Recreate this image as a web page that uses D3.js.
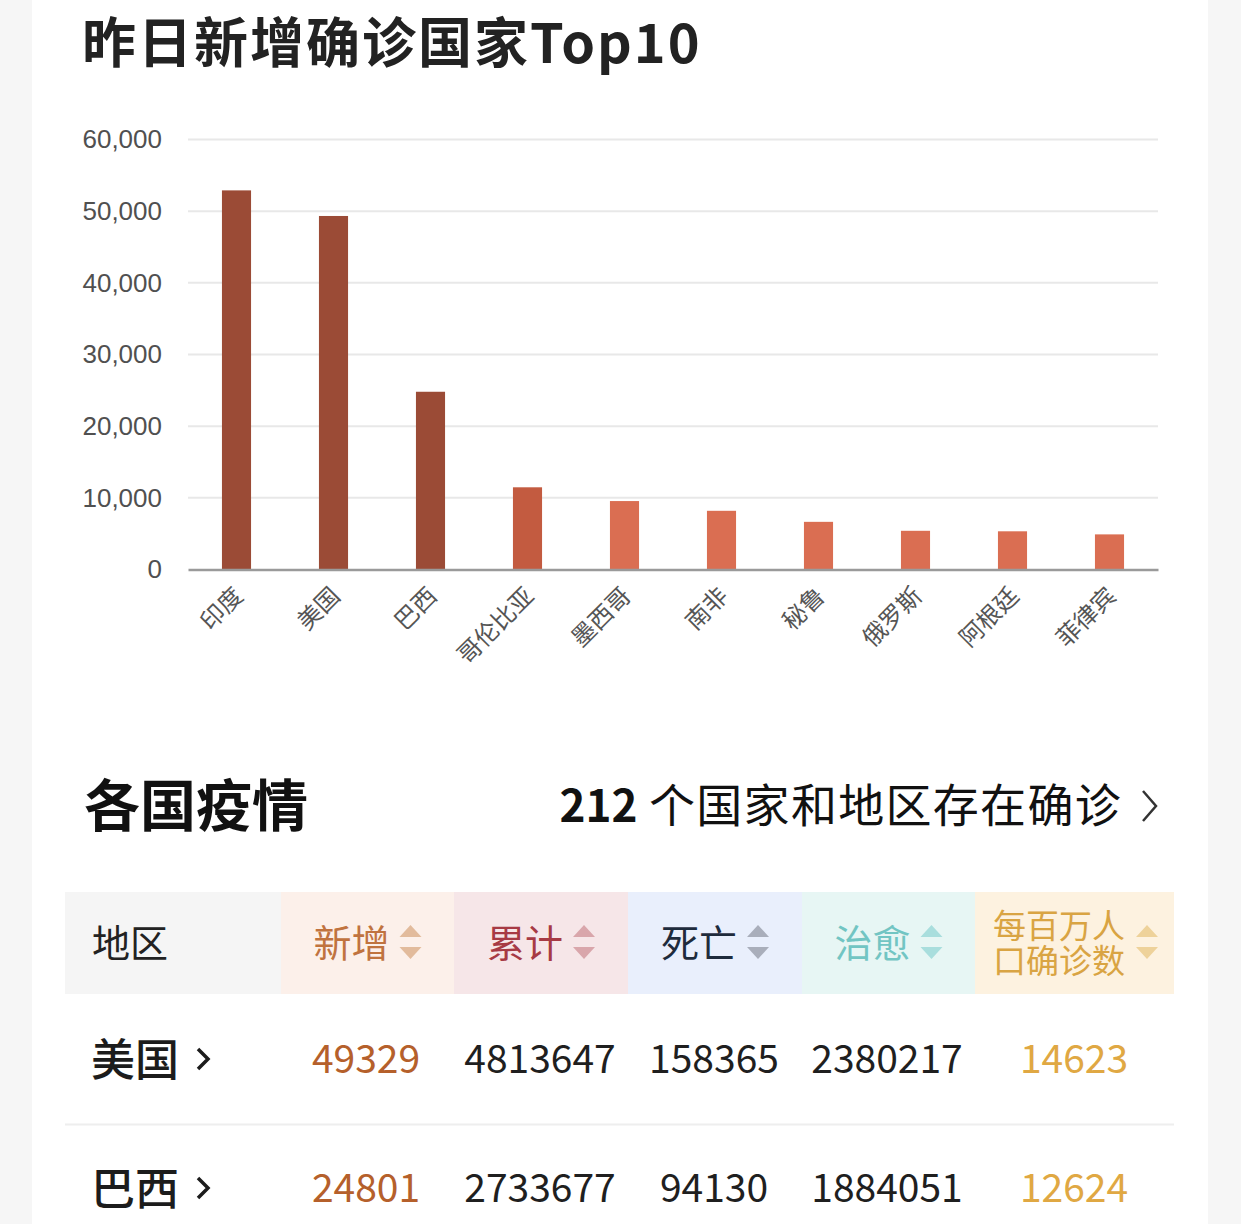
<!DOCTYPE html>
<html>
<head>
<meta charset="utf-8">
<script src="https://cdn.jsdelivr.net/npm/d3@7/dist/d3.min.js"></script>
<style>
  html, body { margin: 0; padding: 0; background: #f6f6f6; }
  svg { display: block; }
</style>
</head>
<body>
<svg id="chart" width="1241" height="1224" font-family="'Noto Sans CJK SC', 'Noto Sans', sans-serif"></svg>
<script>
// ---- data ----
const countries = ["印度", "美国", "巴西", "哥伦比亚", "墨西哥", "南非", "秘鲁", "俄罗斯", "阿根廷", "菲律宾"];
const newCases = [52900, 49329, 24801, 11470, 9550, 8190, 6650, 5400, 5330, 4900];
const barColors = ["#9b4b36", "#9b4b36", "#9b4b36", "#c35b40", "#da6e52", "#da6e52", "#da6e52", "#da6e52", "#da6e52", "#da6e52"];
const yTicks = [0, 10000, 20000, 30000, 40000, 50000, 60000];

const titleText = "昨日新增确诊国家Top10";
const sectionTitle = "各国疫情";
const countryCount = "212";
const countrySuffix = " 个国家和地区存在确诊";

const headerLabels = [["地区"], ["新增"], ["累计"], ["死亡"], ["治愈"], ["每百万人", "口确诊数"]];
const headerColors = ["#222222", "#c0733f", "#a73a44", "#1e2b3c", "#72c5c3", "#d9a443"];
const headerBgs = ["#f5f5f5", "#fcf0ea", "#f6e6e8", "#e9effc", "#e7f6f4", "#fdf2e0"];
const arrowColors = [null, "#e2bb9c", "#d9a6ab", "#a9aebb", "#a9dedd", "#eed29a"];
const rowNames = ["美国", "巴西"];
const rowNew = [49329, 24801];
const rowTotal = [4813647, 2733677];
const rowDeath = [158365, 94130];
const rowCured = [2380217, 1884051];
const rowPerMillion = [14623, 12624];
const numberColors = ["#b5602b", "#1f1f1f", "#1f1f1f", "#1f1f1f", "#e0a843"];

// ---- drawing ----
const CJK = "'Noto Sans CJK SC', 'Noto Sans', sans-serif";
const svg = d3.select("#chart");
svg.append("rect").attr("x", 0).attr("y", 0).attr("width", 1241).attr("height", 1224).attr("fill", "#f6f6f6");
svg.append("rect").attr("x", 32).attr("y", 0).attr("width", 1176).attr("height", 1224).attr("fill", "#ffffff");

// title
svg.append("text").attr("x", 82).attr("y", 63)
  .attr("font-size", 54).attr("font-weight", 700).attr("fill", "#222")
  .attr("letter-spacing", 2)
  .text(titleText);

// chart
const plotL = 188, plotR = 1158, plotT = 139.5, plotB = 569.5;
const x = d3.scaleBand().domain(countries).range([plotL, plotR]).paddingInner(0.7).paddingOuter(0.35);
const y = d3.scaleLinear().domain([0, 60000]).range([plotB, plotT]);

const grid = svg.append("g");
grid.selectAll("line").data(yTicks.filter(d => d > 0)).join("line")
  .attr("x1", plotL).attr("x2", plotR)
  .attr("y1", d => y(d)).attr("y2", d => y(d))
  .attr("stroke", "#e8e8e8").attr("stroke-width", 2);

const yAxis = svg.append("g").attr("transform", `translate(${plotL},0)`)
  .call(d3.axisLeft(y).tickValues(yTicks).tickSize(0).tickPadding(26).tickFormat(d3.format(",")));
yAxis.select(".domain").remove();
yAxis.attr("font-family", "'Liberation Sans', Arial, sans-serif");
yAxis.selectAll("text").attr("font-size", 26).attr("fill", "#505050");

svg.append("g").selectAll("rect").data(countries).join("rect")
  .attr("x", d => x(d)).attr("width", x.bandwidth())
  .attr("y", (d, i) => y(newCases[i])).attr("height", (d, i) => plotB - y(newCases[i]))
  .attr("fill", (d, i) => barColors[i]);

const xAxis = svg.append("g").attr("transform", `translate(0,${plotB})`)
  .call(d3.axisBottom(x).tickSize(0).tickPadding(0));
xAxis.attr("font-family", CJK);
xAxis.select(".domain").attr("stroke", "#9a9a9a").attr("stroke-width", 2.5);
xAxis.selectAll(".tick text")
  .attr("font-size", 24).attr("fill", "#555")
  .attr("text-anchor", "end")
  .attr("dy", "0.35em")
  .attr("transform", "translate(2,22) rotate(-45)");

// section title
svg.append("text").attr("x", 84).attr("y", 826)
  .attr("font-size", 56).attr("font-weight", 700).attr("fill", "#111")
  .text(sectionTitle);

const cc = svg.append("text").attr("x", 1122).attr("y", 822).attr("text-anchor", "end")
  .attr("font-size", 46).attr("fill", "#111");
cc.append("tspan").attr("font-weight", 700).attr("font-size", 44).text(countryCount);
cc.append("tspan").attr("letter-spacing", 1.3).text(countrySuffix);
svg.append("path").attr("d", "M1143,791 L1156,806 L1143,821")
  .attr("fill", "none").attr("stroke", "#333").attr("stroke-width", 2.5);

// table
const colEdges = [65, 281, 454, 628, 802, 975, 1174];
const headT = 892, headB = 994;
const head = svg.append("g");
headerLabels.forEach((lab, i) => {
  head.append("rect").attr("x", colEdges[i]).attr("y", headT)
    .attr("width", colEdges[i + 1] - colEdges[i]).attr("height", headB - headT)
    .attr("fill", headerBgs[i]);
  const cx = (colEdges[i] + colEdges[i + 1]) / 2;
  const midY = (headT + headB) / 2;
  if (i === 0) {
    head.append("text").attr("x", 92).attr("y", midY + 14)
      .attr("font-size", 38).attr("fill", headerColors[i]).text(lab[0]);
    return;
  }
  const fs = lab.length > 1 ? 33 : 38;
  const tw = lab[0].length * fs;
  const groupW = tw + 10 + 22;
  const tx = lab.length > 1 ? 993 : cx - groupW / 2;
  if (lab.length === 1) {
    head.append("text").attr("x", tx).attr("y", midY + 14)
      .attr("font-size", fs).attr("fill", headerColors[i]).text(lab[0]);
  } else {
    const t = head.append("text").attr("font-size", fs).attr("fill", headerColors[i]);
    t.append("tspan").attr("x", tx).attr("y", midY - 5).text(lab[0]);
    t.append("tspan").attr("x", tx).attr("y", midY + 30).text(lab[1]);
  }
  const ax = lab.length > 1 ? 1147 : tx + tw + 10 + 11;
  head.append("path").attr("d", `M${ax - 11},${midY - 6} L${ax},${midY - 18} L${ax + 11},${midY - 6} Z`).attr("fill", arrowColors[i]);
  head.append("path").attr("d", `M${ax - 11},${midY + 4} L${ax},${midY + 16} L${ax + 11},${midY + 4} Z`).attr("fill", arrowColors[i]);
});

const rowCentres = [1059, 1188];
const numCols = [rowNew, rowTotal, rowDeath, rowCured, rowPerMillion];
const numCenters = [366, 540, 714, 887, 1074];
rowNames.forEach((name, r) => {
  const cy = rowCentres[r];
  svg.append("text").attr("x", 91).attr("y", cy + 17)
    .attr("font-size", 44).attr("font-weight", 500).attr("fill", "#1c1c1c").text(name);
  svg.append("path").attr("d", `M${198},${cy - 10} L${208},${cy} L${198},${cy + 10}`)
    .attr("fill", "none").attr("stroke", "#1c1c1c").attr("stroke-width", 3.5);
  numCols.forEach((col, c) => {
    svg.append("text").attr("x", numCenters[c]).attr("y", cy + 14)
      .attr("text-anchor", "middle").attr("font-size", 39)
      .attr("font-weight", 400)
      .attr("fill", numberColors[c]).text(col[r]);
  });
});
svg.append("line").attr("x1", 65).attr("x2", 1174).attr("y1", 1124.5).attr("y2", 1124.5)
  .attr("stroke", "#eeeeee").attr("stroke-width", 2);
</script>
</body>
</html>
